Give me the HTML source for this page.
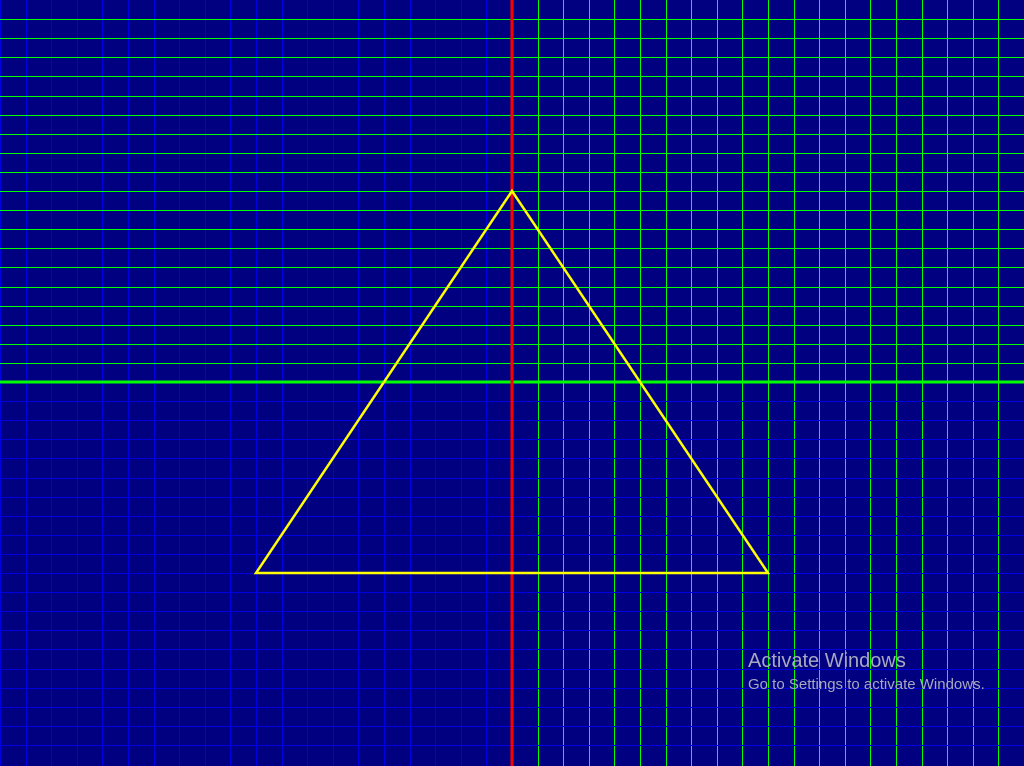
<!DOCTYPE html>
<html><head><meta charset="utf-8"><style>
html,body{margin:0;padding:0;background:#000080;overflow:hidden}
svg{display:block}
</style></head><body>
<svg id="chart" width="1024" height="766" viewBox="0 0 1024 766" xmlns="http://www.w3.org/2000/svg">
<rect x="0" y="0" width="1024" height="766" fill="#000080"/>
<g id="vgrid"></g><g id="hgrid"></g><g id="axes"></g><g id="shape"></g>
<text x="748" y="667" font-family="'Liberation Sans', sans-serif" font-size="20" fill="#a8a8c0">Activate Windows</text>
<text x="748" y="689" font-family="'Liberation Sans', sans-serif" font-size="15" fill="#a8a8c0">Go to Settings to activate Windows.</text>
</svg>
<script>
const xRange = [-20, 20];
const yRange = [-19, 19];
const triX = [0, -10, 10];
const triY = [10, -10, -10];
const NS = 'http://www.w3.org/2000/svg';
function sx(v){return 512 + v*25.6;}
function sy(v){return 382 - v*19.1;}
function line(g,x1,y1,x2,y2,c,w){
  const l=document.createElementNS(NS,'line');
  l.setAttribute('x1',x1);l.setAttribute('y1',y1);l.setAttribute('x2',x2);l.setAttribute('y2',y2);
  l.setAttribute('stroke',c);l.setAttribute('stroke-width',w);
  g.appendChild(l);return l;
}
const vg=document.getElementById('vgrid'), hg=document.getElementById('hgrid'), ax=document.getElementById('axes'), sh=document.getElementById('shape');
for(let i=xRange[0];i<=xRange[1];i++){
  if(i===0) continue;
  const x=Math.round(sx(i))+0.5;
  const l=line(vg,x,0,x,766,i<0?'#0000e0':'#00ff00',1);
  
  
}
for(let j=yRange[0];j<=yRange[1];j++){
  if(j===0) continue;
  const y=Math.round(sy(j))+0.5;
  const l=line(hg,0,y,1024,y,j>0?'#00ff00':'#0000e0',1);
  
  
}
const xa=line(ax,0,sy(0),1024,sy(0),'#00ff00',3);


const ya=line(ax,sx(0),0,sx(0),766,'#ff0000',3);


const p=document.createElementNS(NS,'polygon');
p.setAttribute('points',triX.map((v,i)=>sx(v)+','+sy(triY[i])).join(' '));
p.setAttribute('fill','none');p.setAttribute('stroke','#ffff00');p.setAttribute('stroke-width','2.5');


sh.appendChild(p);
</script>
</body></html>
